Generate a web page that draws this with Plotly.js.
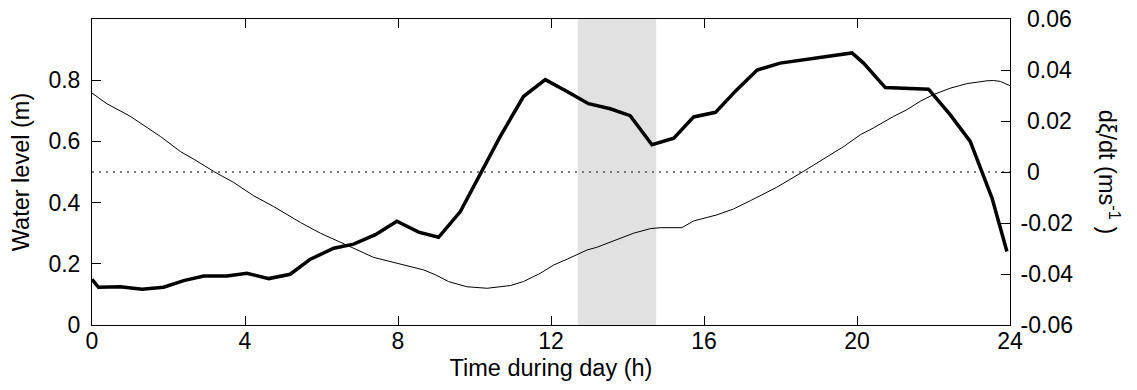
<!DOCTYPE html>
<html>
<head>
<meta charset="utf-8">
<script src="https://cdn.plot.ly/plotly-3.0.1.min.js"></script>
<style>html,body{margin:0;padding:0;background:#fff;}#chart{width:1137px;height:390px;}</style>
</head>
<body>
<div id="chart"></div>
<script>
// Water level (thin line, left axis)
const levelTime = [0, 0.39, 1.0, 1.79, 2.31, 2.66, 3.18, 3.70, 4.23, 4.75, 5.45, 5.97, 6.75, 7.36, 7.97, 8.67, 8.98, 9.32, 9.80, 10.33, 10.94, 11.28, 11.72, 12.07, 12.42, 12.94, 13.20, 13.64, 14.16, 14.60, 14.86, 15.42, 15.73, 16.34, 16.77, 17.21, 17.55, 17.90, 18.52, 19.22, 19.65, 20.09, 20.43, 20.96, 21.31, 21.65, 22.00, 22.44, 22.88, 23.40, 23.57, 23.75, 24.0];
const levelValue = [0.758, 0.723, 0.682, 0.616, 0.567, 0.542, 0.502, 0.466, 0.422, 0.387, 0.335, 0.300, 0.256, 0.221, 0.202, 0.180, 0.164, 0.142, 0.125, 0.120, 0.129, 0.142, 0.169, 0.196, 0.215, 0.245, 0.254, 0.276, 0.300, 0.315, 0.318, 0.318, 0.340, 0.360, 0.379, 0.406, 0.428, 0.450, 0.496, 0.551, 0.583, 0.622, 0.644, 0.682, 0.704, 0.731, 0.753, 0.774, 0.789, 0.798, 0.799, 0.796, 0.782];

// dξ/dt (thick line, right axis)
const rateTime = [0, 0.17, 0.74, 1.31, 1.87, 2.40, 2.92, 3.53, 4.05, 4.62, 5.18, 5.71, 6.32, 6.84, 7.41, 7.97, 8.54, 9.06, 9.63, 10.15, 10.67, 11.28, 11.85, 12.42, 12.98, 13.55, 14.07, 14.64, 15.21, 15.73, 16.30, 16.86, 17.39, 17.99, 18.52, 19.04, 19.56, 19.87, 20.17, 20.74, 21.87, 22.44, 22.96, 23.27, 23.53, 23.92];
const rateValue = [-0.0421, -0.0452, -0.0450, -0.0460, -0.0452, -0.0426, -0.0408, -0.0408, -0.0397, -0.0418, -0.0401, -0.0342, -0.0299, -0.0283, -0.0246, -0.0193, -0.0236, -0.0256, -0.0155, -0.0011, 0.0139, 0.0296, 0.0362, 0.0316, 0.0268, 0.0248, 0.0221, 0.0107, 0.0133, 0.0216, 0.0234, 0.0323, 0.0400, 0.0427, 0.0438, 0.0451, 0.0460, 0.0467, 0.0427, 0.0331, 0.0325, 0.0224, 0.0120, -0.0005, -0.0102, -0.0312];

// Shaded period (h)
const bandStart = 12.7;
const bandEnd = 14.75;

// Tick labels
const xTicks = [0, 4, 8, 12, 16, 20, 24];
const xTickText = ['0', '4', '8', '12', '16', '20', '24'];
const yTicks = [0, 0.2, 0.4, 0.6, 0.8];
const yTickText = ['0', '0.2', '0.4', '0.6', '0.8'];
const y2Ticks = [-0.06, -0.04, -0.02, 0, 0.02, 0.04, 0.06];
const y2TickText = ['-0.06', '-0.04', '-0.02', '\u00a00', '\u00a00.02', '\u00a00.04', '\u00a00.06'];

const FONT = 'Liberation Sans, Arial, Helvetica, sans-serif';
const TICK = {family: FONT, size: 23, color: '#000'};
const TITLE = {family: FONT, size: 23.5, color: '#000'};

const traces = [
  {x: levelTime, y: levelValue, type: 'scatter', mode: 'lines', yaxis: 'y',
   line: {color: '#000', width: 1}, hoverinfo: 'skip', showlegend: false},
  {x: rateTime, y: rateValue, type: 'scatter', mode: 'lines', yaxis: 'y2',
   line: {color: '#000', width: 3.5}, hoverinfo: 'skip', showlegend: false}
];

const layout = {
  width: 1137, height: 390,
  margin: {l: 92, r: 127, t: 19, b: 65},
  paper_bgcolor: '#fff', plot_bgcolor: '#fff',
  font: {family: FONT, size: 23, color: '#000'},
  showlegend: false,
  xaxis: {
    range: [0, 24], tickvals: xTicks, ticktext: xTickText,
    ticks: 'inside', ticklen: 9, tickwidth: 1, tickcolor: '#000',
    showline: true, linecolor: '#000', linewidth: 1, mirror: 'ticks',
    showgrid: false, zeroline: false, ticklabelstandoff: -5,
    tickfont: TICK,
    title: {text: 'Time during day (h)', font: TITLE, standoff: 6}
  },
  yaxis: {
    range: [0, 1], tickvals: yTicks, ticktext: yTickText,
    ticks: 'inside', ticklen: 9, tickwidth: 1, tickcolor: '#000',
    showline: true, linecolor: '#000', linewidth: 1,
    showgrid: false, zeroline: false, ticklabelstandoff: 6,
    tickfont: TICK,
    title: {text: 'Water level (m)', font: TITLE, standoff: 12}
  },
  yaxis2: {
    range: [-0.06, 0.06], overlaying: 'y', side: 'right',
    tickvals: y2Ticks, ticktext: y2TickText,
    ticks: 'inside', ticklen: 9, tickwidth: 1, tickcolor: '#000',
    showline: true, linecolor: '#000', linewidth: 1,
    showgrid: false, zeroline: false, ticklabelstandoff: 5,
    tickfont: TICK
  },
  shapes: [
    {type: 'rect', xref: 'x', yref: 'paper', x0: bandStart, x1: bandEnd, y0: 0, y1: 1,
     fillcolor: '#e1e1e1', line: {width: 0}, layer: 'below'},
    {type: 'line', xref: 'paper', yref: 'y2', x0: 0, x1: 1, y0: 0, y1: 0,
     line: {color: '#555', width: 1.5, dash: '2px,5px'}, layer: 'below'}
  ],
  annotations: [
    {text: 'd\u03be/dt (ms<sup>-1</sup> )', xref: 'paper', yref: 'paper', x: 1.108, y: 0.5,
     xanchor: 'center', yanchor: 'middle', textangle: 90, showarrow: false,
     font: TITLE}
  ]
};

Plotly.newPlot('chart', traces, layout, {staticPlot: true, displayModeBar: false});
</script>
</body>
</html>
